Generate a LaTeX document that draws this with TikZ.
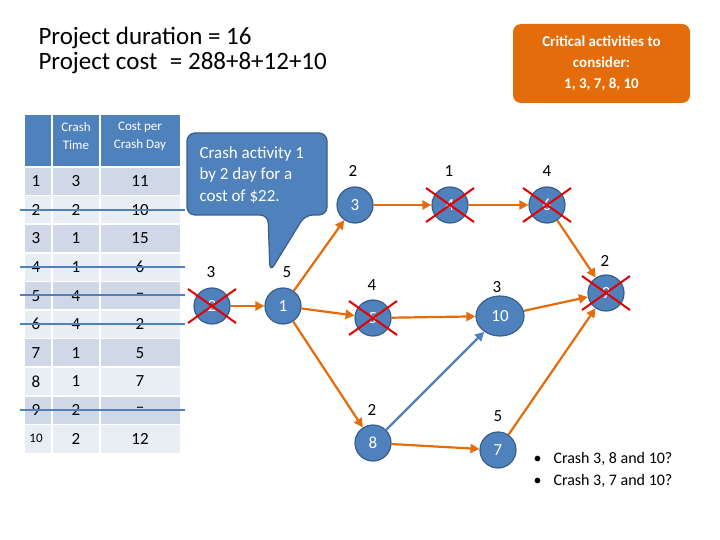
\documentclass[tikz,border=0pt]{standalone}
\usepackage{fontspec}
\setmainfont{Carlito}
\usetikzlibrary{arrows.meta,shapes.geometric}
\definecolor{hb}{HTML}{4F81BD}
\definecolor{hbd}{HTML}{385D8A}
\definecolor{ra}{HTML}{D0D8E8}
\definecolor{rb}{HTML}{E9EDF4}
\definecolor{orng}{HTML}{E46C0A}
\begin{document}
\begin{tikzpicture}[x=1pt,y=-1pt,
  nd/.style={circle,fill=hb,draw=hbd,line width=1.2pt,minimum size=36pt,inner sep=0pt,text=white,font=\fontsize{17}{17}\selectfont},
  lb/.style={font=\fontsize{17}{17}\selectfont},
  ar/.style={draw=orng,line width=2.2pt,-{Triangle[length=9pt,width=9pt]}},
  cross/.style={draw=red!90!black,line width=2pt},
  strike/.style={draw=hb,line width=2.5pt}]
\useasboundingbox (0,0) rectangle (720,540);
\fill[white] (0,0) rectangle (720,540);
% title
\node[anchor=west,font=\fontsize{25}{25}\selectfont,align=left] (title) at (35,50) {Project duration = 16\\Project cost \;= 288+8+12+10};
% orange box
\node[fill=orng,rounded corners=8pt,minimum width=177pt,minimum height=79pt,text=white,align=center,font=\bfseries\fontsize{15}{21}\selectfont] (crit) at (601.5,63.5) {Critical activities to\\consider:\\1, 3, 7, 8, 10};
% table
\fill[hb] (25,115) rectangle (180,167);
\draw[white,line width=1.5pt] (52,115)--(52,167) (100,115)--(100,167);
\node[white,align=center,font=\fontsize{13}{18}\selectfont] (h1) at (76,136) {Crash\\Time};
\node[white,align=center,font=\fontsize{13}{18}\selectfont] (h2) at (140,136) {Cost per\\Crash Day};
\foreach \i/\a/\b [count=\k] in {1/3/11,2/2/10,3/1/15,4/1/6,5/4/--,6/4/2,7/1/5,8/1/7,9/2/--,10/2/12}{
  \pgfmathsetmacro\yt{167+(\k-1)*28.6}
  \pgfmathsetmacro\yc{\yt+14.3}
  \ifodd\k \def\cc{ra}\else\def\cc{rb}\fi
  \fill[\cc] (25,\yt) rectangle (180,\yt+28.6);
  \draw[white,line width=1.5pt] (25,\yt)--(180,\yt) (52,\yt)--(52,\yt+28.6) (100,\yt)--(100,\yt+28.6);
  \node[font=\fontsize{17}{17}\selectfont] at (36,\yc) {\ifnum\k=10 \fontsize{13}{13}\selectfont 10\else\i\fi};
  \node[font=\fontsize{17}{17}\selectfont] at (76,\yc) {\a};
  \node[font=\fontsize{17}{17}\selectfont] at (140,\yc) {\b};
}
\foreach \y in {210,267,295,324,410} \draw[strike] (20,\y)--(185,\y);
% callout
\fill[hb,draw=hbd,line width=1.2pt,rounded corners=8pt] (187,133) -- (327,133) -- (327,215) -- (305,215) -- (270,272) -- (268,215) -- (187,215) -- cycle;
\node[anchor=north west,text=white,align=left,font=\fontsize{17}{21.5}\selectfont] (call) at (196,143) {Crash activity 1\\by 2 day for a\\cost of \$22.};
% nodes
\node[nd] (n2) at (212,306) {2};
\node[nd] (n1) at (283,306) {1};
\node[nd] (n3) at (355,205) {3};
\node[nd] (n4) at (450,205) {4};
\node[nd] (n6) at (547,205) {6};
\node[nd] (n5) at (373,318) {5};
\node[nd,ellipse,minimum width=48pt,minimum height=40pt] (n10) at (500,316) {10};
\node[nd] (n9) at (606,293) {9};
\node[nd] (n8) at (373,443) {8};
\node[nd] (n7) at (498,450) {7};
% durations
\node[lb] at (211,272) {3};
\node[lb] at (287,272) {5};
\node[lb] at (353,171) {2};
\node[lb] at (449,171) {1};
\node[lb] at (547,171) {4};
\node[lb] at (372,285) {4};
\node[lb] at (497,287) {3};
\node[lb] at (605,261) {2};
\node[lb] at (372,410) {2};
\node[lb] at (498,416) {5};
% arrows
\draw[ar] (n2)--(n1);
\draw[ar] (n1)--(n3);
\draw[ar] (n1)--(n5);
\draw[ar] (n1)--(n8);
\draw[ar] (n3)--(n4);
\draw[ar] (n4)--(n6);
\draw[ar] (n6)--(n9);
\draw[ar] (n5)--(n10);
\draw[ar] (n10)--(n9);
\draw[ar] (n7)--(n9);
\draw[ar] (n8)--(n7);
\draw[ar,draw=hb] (n8)--(n10);
% crosses
\foreach \n in {n2,n4,n6,n5,n9}{
  \draw[cross] ([shift={(-24,-17)}]\n.center)--([shift={(24,17)}]\n.center);
  \draw[cross] ([shift={(-24,17)}]\n.center)--([shift={(24,-17)}]\n.center);
}
% bullets
\node[anchor=west,align=left,font=\fontsize{16}{22}\selectfont] (bul) at (530,470) {\textbullet\hspace{12pt}Crash 3, 8 and 10?\\\textbullet\hspace{12pt}Crash 3, 7 and 10?};
\end{tikzpicture}
\end{document}
